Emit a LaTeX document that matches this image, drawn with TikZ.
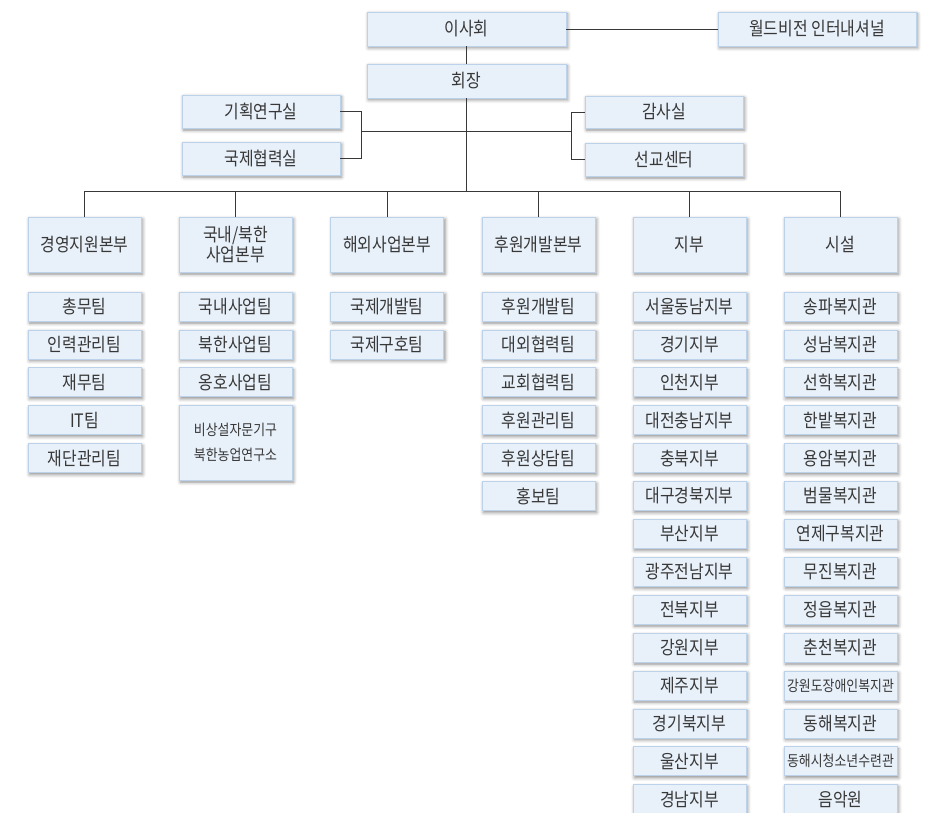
\documentclass[tikz,border=0pt]{standalone}
\usepackage{fontspec}
\setmainfont{Noto Sans CJK KR}[FakeStretch=0.86]
\usetikzlibrary{shadows.blur}
\definecolor{boxfill}{HTML}{E8F0F9}
\definecolor{boxline}{HTML}{BCD1EA}
\definecolor{ink}{HTML}{383838}
\newcommand\smallko{\fontsize{15}{25}\selectfont}
\begin{document}
\begin{tikzpicture}[x=1pt,y=-1pt,
  orgbox/.style={draw=boxline, line width=0.8pt, fill=boxfill, inner sep=0pt,
    text=ink, font=\fontsize{18.5}{21}\selectfont, align=center,
    blur shadow={shadow xshift=1.5pt, shadow yshift=-2pt, shadow blur radius=3.5pt, shadow opacity=45}},
  topbox/.style={orgbox, minimum width=199pt, minimum height=34pt},
  subbox/.style={orgbox, minimum width=158pt, minimum height=33pt},
  divbox/.style={orgbox, minimum width=113pt, minimum height=55pt},
  teambox/.style={orgbox, minimum width=113pt, minimum height=29pt},
  link/.style={draw=ink, line width=0.9pt}]
\useasboundingbox (0,0) rectangle (926,813);

% top level
\node[topbox] (board) at (466.5,29) {이사회};
\node[topbox, minimum width=198pt] (wvi) at (817,29) {월드비전 인터내셔널};
\node[topbox] (pres) at (466.5,81) {회장};
\node[subbox] (plan) at (261,111.5) {기획연구실};
\node[subbox] (intl) at (261,158.5) {국제협력실};
\node[subbox, minimum height=32pt] (audit) at (664,112) {감사실};
\node[subbox] (mission) at (664,159.5) {선교센터};

% divisions
\node[divbox] (d1) at (84.5,244.5) {경영지원본부};
\node[divbox] (d2) at (235.5,244.5) {국내/북한\\[-1pt]사업본부};
\node[divbox] (d3) at (387,244.5) {해외사업본부};
\node[divbox] (d4) at (538.5,244.5) {후원개발본부};
\node[divbox] (d5) at (689.5,244.5) {지부};
\node[divbox] (d6) at (840.5,244.5) {시설};

% connectors
\coordinate (busL) at (84.5,191);
\coordinate (busR) at (840.5,191);
\coordinate (brL) at (361,131);
\coordinate (brR) at (571,131);
\draw[link] (board.east) -- (wvi.west);
\draw[link] (board) -- (pres);
\draw[link] (pres.south) -- (pres.south |- busL);
\draw[link] (busL) -- (busR);
\foreach \d in {d1,d2,d3,d4,d5,d6}
  \draw[link] (\d.north |- busL) -- (\d.north);
\draw[link] (plan.east) -| (brL);
\draw[link] (intl.east) -| (brL);
\draw[link] (audit.west) -| (brR);
\draw[link] (mission.west) -| (brR);
\draw[link] (brL) -- (brR);

% teams
\foreach \t [count=\i from 0] in {총무팀,인력관리팀,재무팀,IT팀,재단관리팀}
  \node[teambox] (c1t\i) at (84.5,306.5+37.9*\i) {\t};
\foreach \t [count=\i from 0] in {국내사업팀,북한사업팀,옹호사업팀}
  \node[teambox] (c2t\i) at (235.5,306.5+37.9*\i) {\t};
\node[orgbox, minimum width=113pt, minimum height=75pt, font=\smallko] (c2t3) at (235.5,442.5) {비상설자문기구\\북한농업연구소};
\foreach \t [count=\i from 0] in {국제개발팀,국제구호팀}
  \node[teambox] (c3t\i) at (387,306.5+37.9*\i) {\t};
\foreach \t [count=\i from 0] in {후원개발팀,대외협력팀,교회협력팀,후원관리팀,후원상담팀,홍보팀}
  \node[teambox] (c4t\i) at (538.5,306.5+37.9*\i) {\t};
\foreach \t [count=\i from 0] in {서울동남지부,경기지부,인천지부,대전충남지부,충북지부,대구경북지부,부산지부,광주전남지부,전북지부,강원지부,제주지부,경기북지부,울산지부,경남지부}
  \node[teambox] (c5t\i) at (689.5,306.5+37.9*\i) {\t};
\foreach \t [count=\i from 0] in {송파복지관,성남복지관,선학복지관,한밭복지관,용암복지관,범물복지관,연제구복지관,무진복지관,정읍복지관,춘천복지관,{\smallko 강원도장애인복지관},동해복지관,{\smallko 동해시청소년수련관},음악원}
  \node[teambox] (c6t\i) at (840.5,306.5+37.9*\i) {\t};
\end{tikzpicture}
\end{document}
